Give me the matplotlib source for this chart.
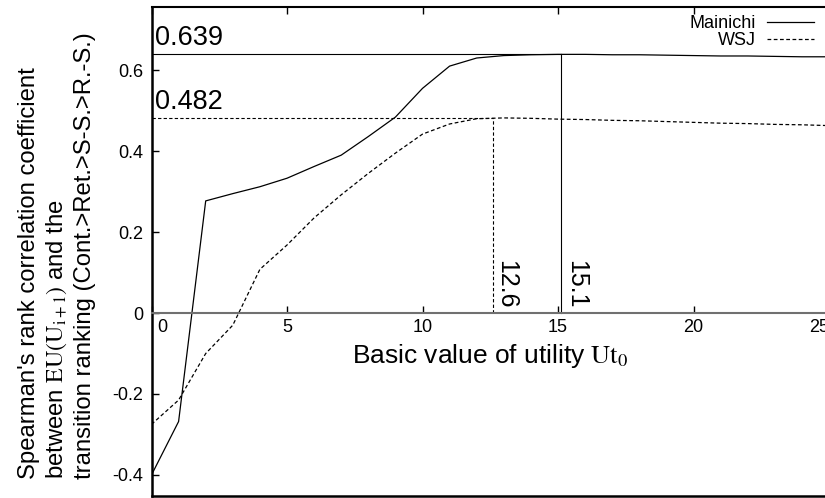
import matplotlib
matplotlib.use('Agg')
import matplotlib.pyplot as plt
from matplotlib.transforms import ScaledTranslation

plt.rcParams['font.family'] = ['Liberation Sans', 'DejaVu Sans']
plt.rcParams['mathtext.fontset'] = 'stix'

# values
u_t0 = list(range(26))
mainichi = [-0.400, -0.268, 0.277, 0.295, 0.312, 0.333, 0.362, 0.390, 0.436, 0.484,
            0.555, 0.610, 0.630, 0.636, 0.638, 0.639, 0.639, 0.638, 0.638, 0.637,
            0.636, 0.635, 0.635, 0.634, 0.633, 0.633]
wsj = [-0.275, -0.215, -0.100, -0.030, 0.108, 0.168, 0.235, 0.292, 0.345, 0.395,
       0.442, 0.467, 0.480, 0.482, 0.481, 0.479, 0.478, 0.476, 0.475, 0.473,
       0.471, 0.469, 0.468, 0.466, 0.465, 0.463]

# peaks
mai_peak_x, mai_peak_y = 15.1, 0.639
wsj_peak_x, wsj_peak_y = 12.6, 0.482

xticks = [0, 5, 10, 15, 20, 25]
yticks = [-0.4, -0.2, 0, 0.2, 0.4, 0.6]
ytick_labels = ['-0.4', '-0.2', '0', '0.2', '0.4', '0.6']

fig = plt.figure(figsize=(8.25, 4.98), dpi=100)
ax = fig.add_axes([151.5 / 825, 1 - 496 / 498, (829 - 151.5) / 825, (496 - 7) / 498])

ax.plot(u_t0, mainichi, color='black', lw=0.9, label='Mainichi')
ax.plot(u_t0, wsj, color='black', lw=0.9, dashes=(3, 2), label='WSJ')

# peak markers
ax.plot([0, mai_peak_x], [mai_peak_y, mai_peak_y], color='black', lw=0.8)
ax.plot([mai_peak_x, mai_peak_x], [0, mai_peak_y], color='black', lw=0.8)
ax.plot([0, wsj_peak_x], [wsj_peak_y, wsj_peak_y], color='black', lw=0.8, dashes=(3, 2))
ax.plot([wsj_peak_x, wsj_peak_x], [0, wsj_peak_y], color='black', lw=0.8, dashes=(3, 2))

ax.text(0.12, mai_peak_y + 0.008, f'{mai_peak_y:.3f}', fontsize=19.5, ha='left', va='bottom')
ax.text(0.12, wsj_peak_y + 0.008, f'{wsj_peak_y:.3f}', fontsize=19.5, ha='left', va='bottom')
ax.text(wsj_peak_x + 0.04, 0.012, f'{wsj_peak_x:.1f}', fontsize=18, rotation=270,
        ha='left', va='bottom')
ax.text(mai_peak_x + 0.12, 0.012, f'{mai_peak_x:.1f}', fontsize=18, rotation=270,
        ha='left', va='bottom')

ax.set_xlim(0, 25)
ax.set_ylim(-0.452, 0.756)

# x axis sits on y = 0
ax.spines['bottom'].set_position(('data', 0))
ax.spines['bottom'].set_color('#707070')
ax.spines['bottom'].set_linewidth(1.5)
ax.spines['right'].set_visible(False)
ax.spines['left'].set_linewidth(1.8)
ax.spines['top'].set_linewidth(1.5)
ax.plot([0, 1], [0, 0], transform=ax.transAxes, color='black', lw=1.8, clip_on=False)

ax.set_xticks(xticks)
ax.set_yticks(yticks)
ax.set_yticklabels(ytick_labels)
ax.tick_params(axis='x', direction='in', top=True, length=5, width=1, pad=4, labelsize=13)
ax.tick_params(axis='y', direction='in', length=5, width=1, pad=6, labelsize=13)
labels = ax.get_xticklabels()
labels[0].set_ha('left')
labels[0].set_transform(labels[0].get_transform() + ScaledTranslation(4 / 72, 0, fig.dpi_scale_trans))
labels[-1].set_ha('right')

ax.text(12.5, -0.105, r'Basic value of utility $\mathrm{Ut_0}$', fontsize=19,
        ha='center', va='center')

fig.text(57 / 825, 1 - 256 / 498,
         'Spearman\'s rank correlation coefficient\n'
         r'between $\mathrm{EU(U_{i+1})}$ and the' '\n'
         'transition ranking (Cont.>Ret.>S-S.>R.-S.)',
         rotation=90, fontsize=17.2, ha='center', va='center',
         multialignment='left', linespacing=1.25)

ax.legend(loc='upper right', bbox_to_anchor=(814 / 825, 1 - 15 / 498),
          bbox_transform=fig.transFigure, frameon=False, markerfirst=False,
          fontsize=13, handlelength=2.6, labelspacing=0.0, borderpad=0,
          borderaxespad=0, handletextpad=0.6)

fig.savefig('out.png', dpi=100)
